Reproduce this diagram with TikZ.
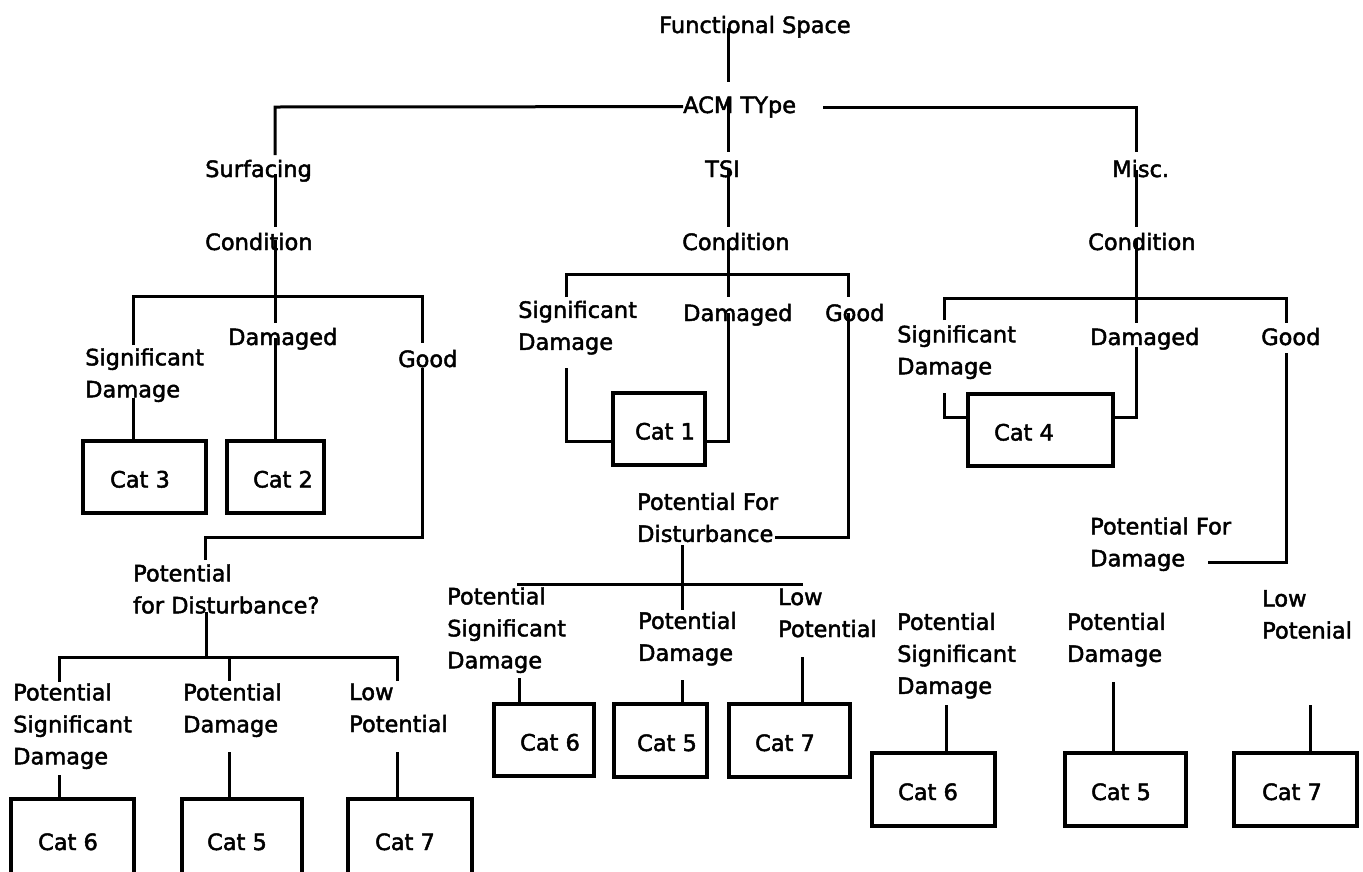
\documentclass[tikz,border=0pt]{standalone}
\usepackage{fontspec}
\setmainfont{DejaVu Sans}[FakeBold=2]
\begin{document}
\begin{tikzpicture}[x=1pt,y=-1pt,
  every node/.style={font=\fontsize{22.5pt}{32pt}\selectfont},
  ln/.style={line width=3pt},
  box/.style={draw, line width=3.2pt, inner sep=0pt, text height=21pt, text depth=0pt},
  lbl/.style={inner sep=0pt, anchor=west, align=left, execute at begin node=\strut, execute at end node=\strut}]
\useasboundingbox (0,0) rectangle (1363,871);
\clip (0,0) rectangle (1363,871);

% ---- labels, top levels
\node[lbl] (fs) at (659,26.6) {Functional Space};
\node[lbl] (acm) at (683,106.6) {ACM TYpe};
\node[lbl] (surf) at (205,170.6) {Surfacing};
\node[lbl] (tsi) at (705,170.6) {TSI};
\node[lbl] (misc) at (1112,170.6) {Misc.};
\node[lbl] (condS) at (205,243.6) {Condition};
\node[lbl] (condT) at (682,243.6) {Condition};
\node[lbl] (condM) at (1088,243.6) {Condition};

% ---- Surfacing subtree
\node[lbl] (sdS) at (85,377.6) {Significant\\Damage};
\node[lbl] (dS) at (228,338.6) {Damaged};
\node[lbl] (gS) at (398,360.6) {Good};
\node[lbl] (pfdS) at (133,593.6) {Potential\\for Disturbance?};
\node[lbl] (psdS) at (13,728.6) {Potential\\Significant\\Damage};
\node[lbl] (pdS) at (183,712.6) {Potential\\Damage};
\node[lbl] (lpS) at (349,712.6) {Low\\Potential};

% ---- TSI subtree
\node[lbl] (sdT) at (518,330.1) {Significant\\Damage};
\node[lbl] (dT) at (683,314.6) {Damaged};
\node[lbl] (gT) at (825,314.6) {Good};
\node[lbl] (pfdT) at (637,522.1) {Potential For\\Disturbance};
\node[lbl] (psdT) at (447,632.6) {Potential\\Significant\\Damage};
\node[lbl] (pdT) at (638,641.1) {Potential\\Damage};
\node[lbl] (lpT) at (778,617.6) {Low\\Potential};

% ---- Misc subtree
\node[lbl] (sdM) at (897,354.6) {Significant\\Damage};
\node[lbl] (dM) at (1090,338.6) {Damaged};
\node[lbl] (gM) at (1261,338.6) {Good};
\node[lbl] (pfdM) at (1090,546.6) {Potential For\\Damage};
\node[lbl] (psdM) at (897,658.1) {Potential\\Significant\\Damage};
\node[lbl] (pdM) at (1067,642.1) {Potential\\Damage};
\node[lbl] (lpM) at (1262,619.1) {Low\\Potenial};

% ---- boxes
\node[box, minimum width=123pt, minimum height=72pt] (c3) at (144.5,477) {\hspace*{-9pt}Cat 3};
\node[box, minimum width=97pt, minimum height=72pt] (c2) at (275.5,477) {\hspace*{15pt}Cat 2};
\node[box, minimum width=92pt, minimum height=72pt] (c1) at (659,429) {\hspace*{12pt}Cat 1};
\node[box, minimum width=145pt, minimum height=72pt] (c4) at (1040.5,430) {\hspace*{-33pt}Cat 4};
\node[box, minimum width=123pt, minimum height=81pt] (b6) at (72.5,839.5) {\hspace*{-9pt}Cat 6};
\node[box, minimum width=120pt, minimum height=81pt] (b5) at (242,839.5) {\hspace*{-10pt}Cat 5};
\node[box, minimum width=124pt, minimum height=81pt] (b7) at (410,839.5) {\hspace*{-10pt}Cat 7};
\node[box, minimum width=100pt, minimum height=72pt] (t6) at (544,740) {\hspace*{12pt}Cat 6};
\node[box, minimum width=93pt, minimum height=73pt] (t5) at (660.5,740.5) {\hspace*{13pt}Cat 5};
\node[box, minimum width=121pt, minimum height=73pt] (t7) at (789.5,740.5) {\hspace*{-9pt}Cat 7};
\node[box, minimum width=123pt, minimum height=73pt] (m6) at (933.5,789.5) {\hspace*{-11pt}Cat 6};
\node[box, minimum width=121pt, minimum height=73pt] (m5) at (1125.5,789.5) {\hspace*{-9pt}Cat 5};
\node[box, minimum width=123pt, minimum height=73pt] (m7) at (1295.5,789.5) {\hspace*{-7pt}Cat 7};

% ---- junction coordinates
\coordinate (jL) at (275,107);
\coordinate (jR) at (1136,107);

% ---- top connectors
\draw[ln] (728,28) -- (728,82);
\draw[ln] (728,100) -- (728,152);
\draw[ln] (728,168) -- (728,227);
\draw[ln] (728,240) -- (728,297);
\draw[ln] (acm.west) -- (jL) -- (275,155);
\draw[ln] (275,174) -- (275,227);
\draw[ln] (275,240) -- (275,323);
\draw[ln] (823,107) -- (jR) -- (1136,152);
\draw[ln] (1136,170) -- (1136,227);
\draw[ln] (1136,240) -- (1136,323);

% ---- Surfacing connectors
\draw[ln] (133,345) -- (133,296) -- (422,296) -- (422,343);
\draw[ln] (133,398) -- ([xshift=-11.5pt]c3.north);
\draw[ln] (275,338) -- ([xshift=-0.5pt]c2.north);
\draw[ln] (422,368) -- (422,537) -- (205,537) -- (205,560);
\draw[ln] (206,612) -- (206,657);
\draw[ln] (59,682) -- (59,657) -- (397,657) -- (397,681);
\draw[ln] (229,657) -- (229,681);
\draw[ln] (59,775) -- ([xshift=-13.5pt]b6.north);
\draw[ln] (229,752) -- ([xshift=-13pt]b5.north);
\draw[ln] (397,752) -- ([xshift=-13pt]b7.north);

% ---- TSI connectors
\draw[ln] (566,297) -- (566,274) -- (848,274) -- (848,297);
\draw[ln] (566,368) -- (566,441) -- ([yshift=-12pt]c1.west);
\draw[ln] (728,313) -- (728,441) -- ([yshift=-12pt]c1.east);
\draw[ln] (848,313) -- (848,537) -- (775,537);
\draw[ln] (682,545) -- (682,610);
\draw[ln] (517,584) -- (803,584);
\draw[ln] (519,678) -- ([xshift=-25pt]t6.north);
\draw[ln] (682,680) -- ([xshift=21.5pt]t5.north);
\draw[ln] (802,657) -- ([xshift=12.5pt]t7.north);

% ---- Misc connectors
\draw[ln] (944,320) -- (944,298) -- (1286,298) -- (1286,323);
\draw[ln] (944,393) -- (944,417) -- ([yshift=13pt]c4.west);
\draw[ln] (1136,347) -- (1136,417) -- ([yshift=13pt]c4.east);
\draw[ln] (1286,353) -- (1286,562) -- (1208,562);
\draw[ln] (946,705) -- ([xshift=12.5pt]m6.north);
\draw[ln] (1113,682) -- ([xshift=-12.5pt]m5.north);
\draw[ln] (1310,705) -- ([xshift=14.5pt]m7.north);
\end{tikzpicture}
\end{document}
